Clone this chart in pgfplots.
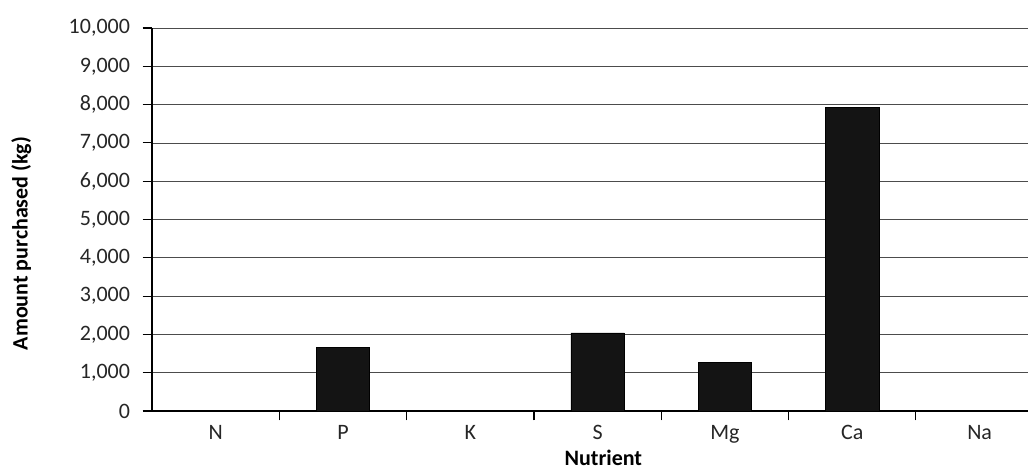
\documentclass[border=0pt]{standalone}
\usepackage{pgfplots}
\pgfplotsset{compat=1.18}
\usepackage{fontspec}
\setmainfont{Carlito}
\begin{document}
\begin{tikzpicture}
\useasboundingbox (-114pt,-40.5pt) rectangle (657pt,308.25pt);
\begin{axis}[
  at={(0,0)}, anchor=south west,
  scale only axis, width=657pt, height=287.25pt,
  xmin=-0.5, xmax=6.38, ymin=0, ymax=10000,
  ybar, bar width=0.42, bar shift=0pt,
  axis x line*=bottom, axis y line*=left,
  axis line style={black, line width=0.8pt},
  ytick={0,1000,...,10000},
  ymajorgrids, grid style={black!70, line width=0.6pt},
  xtick={0.5,1.5,...,5.5},
  xticklabels={},
  extra x ticks={0,...,6},
  extra x tick labels={N,P,K,S,Mg,Ca,Na},
  extra x tick style={major tick length=0pt, grid=none},
  tick align=outside,
  major tick length=7pt,
  tick style={black, line width=0.8pt},
  /pgf/number format/assume math mode=true,
  /pgf/number format/1000 sep={,},
  scaled y ticks=false,
  tick label style={font=\fontsize{16.5}{18}\selectfont, text=black!85},
  yticklabel style={xshift=-6pt},
  xticklabel style={yshift=-7pt},
  xlabel={\textbf{Nutrient}},
  ylabel={\textbf{Amount purchased (kg)}},
  label style={font=\fontsize{16.5}{18}\selectfont},
  xlabel style={at={([xshift=10pt,yshift=-35pt]axis description cs:0.5,0)}, anchor=center},
  ylabel style={at={([xshift=-98pt,yshift=-18pt]axis description cs:0,0.5)}, anchor=center},
]
\addplot[fill=black!92, draw=black] coordinates {(0,0) (1,1660) (2,0) (3,2040) (4,1270) (5,7920) (6,0)};
\draw[black, line width=0.8pt] (axis cs:-0.5,0) -- ++(0,-7pt);
\end{axis}
\end{tikzpicture}
\end{document}
